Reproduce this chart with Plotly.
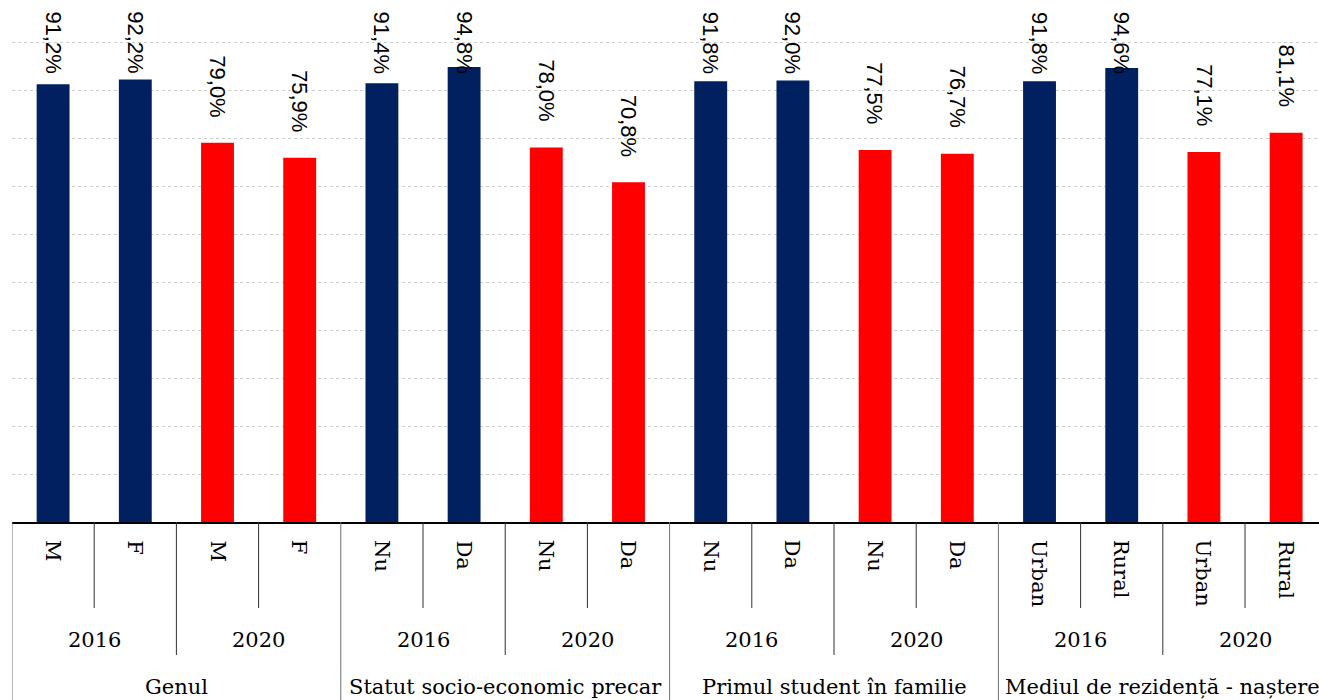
import plotly.graph_objects as go

groups = ["Genul", "Statut socio-economic precar", "Primul student în familie", "Mediul de rezidență - naștere"]
years = ["2016", "2020"]
subcats = [["M", "F"], ["Nu", "Da"], ["Nu", "Da"], ["Urban", "Rural"]]
values_2016 = [[91.2, 92.2], [91.4, 94.8], [91.8, 92.0], [91.8, 94.6]]
values_2020 = [[79.0, 75.9], [78.0, 70.8], [77.5, 76.7], [77.1, 81.1]]
colors = {"2016": "#002060", "2020": "#FF0000"}

# flatten into ordered bars
xs, ys, cols, labels_lvl1 = [], [], [], []
idx = 0
for g, grp in enumerate(groups):
    for year, vals in zip(years, [values_2016[g], values_2020[g]]):
        for s, v in zip(subcats[g], vals):
            xs.append(idx)
            ys.append(v)
            cols.append(colors[year])
            labels_lvl1.append(s)
            idx += 1

fig = go.Figure()
fig.add_trace(go.Bar(x=xs, y=ys, marker=dict(color=cols, line=dict(width=0)),
                     width=0.4, hoverinfo="skip"))

annotations = []
# value labels
for x, v in zip(xs, ys):
    txt = f"{v:.1f}%".replace(".", ",")
    if v > 88:
        annotations.append(dict(x=x, y=104.9, xref="x", yref="y", text=txt, textangle=90,
                                showarrow=False, yanchor="top", xanchor="center", yshift=9,
                                font=dict(family="Liberation Sans", size=22, color="#000")))
    else:
        annotations.append(dict(x=x, y=v, xref="x", yref="y", text=txt, textangle=90,
                                showarrow=False, yanchor="bottom", xanchor="center", yshift=24,
                                font=dict(family="Liberation Sans", size=22, color="#000")))

serif = dict(family="DejaVu Serif", size=21, color="#000")
# level 1 labels
for x, s in zip(xs, labels_lvl1):
    annotations.append(dict(x=x, y=0, xref="x", yref="paper", text=s, textangle=90,
                            showarrow=False, yanchor="top", xanchor="center", yshift=-16,
                            font=serif))
# level 2 and 3
shapes = []
for g, grp in enumerate(groups):
    base = g * 4
    for k, year in enumerate(years):
        annotations.append(dict(x=base + 2 * k + 0.5, y=0, xref="x", yref="paper", text=year,
                                showarrow=False, yanchor="middle", xanchor="center", yshift=-118,
                                font=serif))
    annotations.append(dict(x=base + 1.5, y=0, xref="x", yref="paper", text=grp,
                            showarrow=False, yanchor="middle", xanchor="center", yshift=-165,
                            font=serif))
    line = dict(color="#303030", width=1)
    # dividers
    for k in range(2):
        shapes.append(dict(type="line", xref="x", yref="paper", ysizemode="pixel", yanchor=0,
                           x0=base + 2 * k + 0.5, x1=base + 2 * k + 0.5, y0=0, y1=-86, line=line))
    shapes.append(dict(type="line", xref="x", yref="paper", ysizemode="pixel", yanchor=0,
                       x0=base + 1.5, x1=base + 1.5, y0=0, y1=-133, line=line))
    shapes.append(dict(type="line", xref="x", yref="paper", ysizemode="pixel", yanchor=0,
                       x0=base - 0.5, x1=base - 0.5, y0=0, y1=-180, line=dict(color="#707070", width=1)))

fig.update_layout(
    width=1319, height=700,
    margin=dict(l=12, r=0, t=0, b=178),
    plot_bgcolor="white", paper_bgcolor="white",
    showlegend=False,
    annotations=annotations,
    shapes=shapes,
    xaxis=dict(range=[-0.5, 15.4], showticklabels=False, showgrid=False, zeroline=False,
               showline=True, linecolor="#000", linewidth=1.5, ticks=""),
    yaxis=dict(range=[0, 108.75], dtick=10, showticklabels=False, showgrid=True,
               gridcolor="#cccccc", griddash="dot", gridwidth=1, zeroline=False, showline=False),
)

fig.write_html("out.html", config={"displayModeBar": False},
               post_script="document.body.style.margin='0';document.body.style.overflow='hidden';")
